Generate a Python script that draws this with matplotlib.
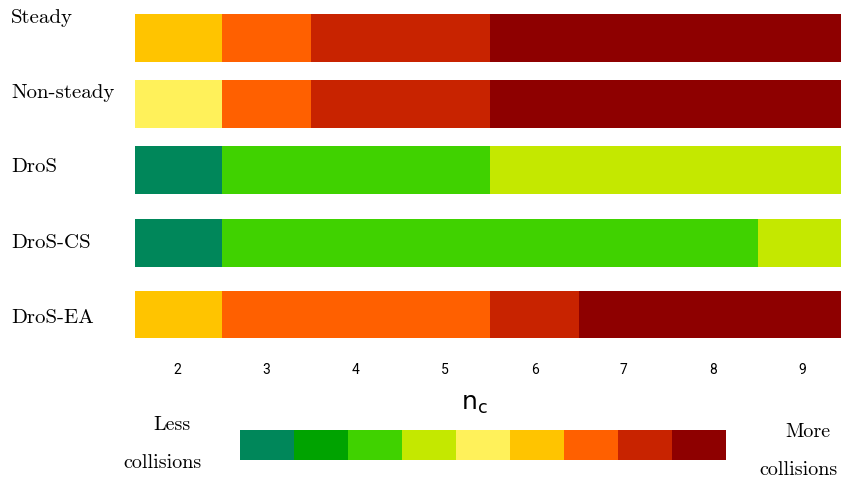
import matplotlib
matplotlib.use("Agg")
import matplotlib.pyplot as plt
import numpy as np

# ---- data ----
nc_values = [2, 3, 4, 5, 6, 7, 8, 9]
methods = ["Steady", "Non-steady", "DroS", "DroS-CS", "DroS-EA"]
# collision level index (0 = least collisions, 8 = most) per n_c
steady     = [5, 6, 7, 7, 8, 8, 8, 8]
non_steady = [4, 6, 7, 7, 8, 8, 8, 8]
dros       = [0, 2, 2, 2, 3, 3, 3, 3]
dros_cs    = [0, 2, 2, 2, 2, 2, 2, 3]
dros_ea    = [5, 6, 6, 6, 7, 8, 8, 8]
levels = [steady, non_steady, dros, dros_cs, dros_ea]

palette = ["#00875A", "#00A300", "#40D200", "#C4E800", "#FFF15A",
           "#FFC400", "#FF6000", "#C82300", "#8E0000"]

# ---- layout ----
W, H = 841, 483
fig = plt.figure(figsize=(W / 100, H / 100), dpi=100)

ax_l, ax_r, ax_t, ax_b = 135, 841, 13, 338
ax = fig.add_axes([ax_l / W, 1 - ax_b / H, (ax_r - ax_l) / W, (ax_b - ax_t) / H])
row_y = [37.5, 103.5, 170, 243, 315]
label_y = [18, 93, 167, 243, 318]
row_h = 48

for yc, lev in zip(row_y, levels):
    ax.barh([yc] * len(nc_values), [1] * len(nc_values),
            left=[n - 0.5 for n in nc_values], height=row_h,
            color=[palette[i] for i in lev], edgecolor="none", linewidth=0)

cell_px = 89.3
x0 = 2.5 - (222 - ax_l) / cell_px
ax.set_xlim(x0, x0 + (ax_r - ax_l) / cell_px)
ax.set_ylim(ax_b, ax_t)
for s in ax.spines.values():
    s.set_visible(False)
ax.set_yticks([])
ax.set_xticks(nc_values)
ax.set_xticklabels([str(n) for n in nc_values], family="Roboto", fontsize=10)
ax.tick_params(axis="x", length=0, pad=18)
ax.set_xlabel(r"$\mathregular{n_c}$", family="DejaVu Sans", fontsize=18, labelpad=4)
ax.xaxis.set_label_coords((474 - ax_l) / (ax_r - ax_l), -(392 - ax_b) / (ax_b - ax_t))

for name, ly in zip(methods, label_y):
    fig.text(11 / W, 1 - ly / H, name, family="cmr10", fontsize=15,
             ha="left", va="center")

# ---- colour legend ----
cb_l, cb_r, cb_t, cb_b = 240, 726, 430, 460
cax = fig.add_axes([cb_l / W, 1 - cb_b / H, (cb_r - cb_l) / W, (cb_b - cb_t) / H])
idx = np.arange(len(palette))
cax.bar(idx, [1] * len(palette), width=1.0, color=palette, edgecolor="none", linewidth=0)
cax.set_xlim(-0.5, len(palette) - 0.5)
cax.set_ylim(0, 1)
cax.axis("off")

fig.text(172 / W, 1 - 425 / H, "Less", family="cmr10", fontsize=14.5, ha="center", va="center")
fig.text(162 / W, 1 - 463 / H, "collisions", family="cmr10", fontsize=14.5, ha="center", va="center")
fig.text(808 / W, 1 - 432 / H, "More", family="cmr10", fontsize=14.5, ha="center", va="center")
fig.text(799 / W, 1 - 470 / H, "collisions", family="cmr10", fontsize=14.5, ha="center", va="center")

fig.savefig("out.png", dpi=100)
